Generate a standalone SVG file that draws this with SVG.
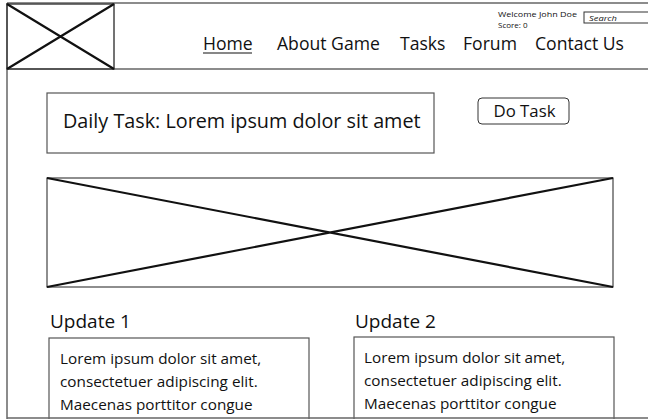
<svg xmlns="http://www.w3.org/2000/svg" width="648" height="419" viewBox="0 0 648 419">
<style>
text{font-family:"Open Sans","Noto Sans",sans-serif;fill:#111}
.box{fill:#fff;stroke:#555;stroke-width:1.2}
.x{stroke:#111;stroke-width:2.2;fill:none}
.line{stroke:#666;stroke-width:1.5;fill:none}
.nav{font-size:17.6px}
.body{font-size:15.3px}
.head{font-size:19px}
.small{font-size:8px}
</style>
<rect x="0" y="0" width="648" height="419" fill="#fff"/>
<g id="frame">
<line class="line" x1="7" y1="3" x2="648" y2="3"/>
<line class="line" x1="7" y1="69" x2="648" y2="69"/>
<line class="line" x1="7" y1="3" x2="7" y2="419"/>
</g>
<g id="logo">
<rect x="7" y="4" width="107" height="65" fill="none" stroke="#444" stroke-width="1.5"/>
<path class="x" d="M7 4 L114 69 M114 4 L7 69"/>
</g>
<g id="nav">
<text class="nav" x="203" y="50">Home</text>
<line x1="203" y1="53" x2="252" y2="53" stroke="#111" stroke-width="1.2"/>
<text class="nav" x="277" y="50">About Game</text>
<text class="nav" x="400" y="50">Tasks</text>
<text class="nav" x="463" y="50">Forum</text>
<text class="nav" x="535" y="50">Contact Us</text>
</g>
<g id="user">
<text class="small" x="498" y="17" textLength="79" lengthAdjust="spacingAndGlyphs">Welcome John Doe</text>
<text class="small" x="498" y="28">Score: 0</text>
</g>
<g id="search">
<rect x="584" y="12" width="70" height="11" fill="#fff" stroke="#333" stroke-width="1"/>
<text class="small" x="589" y="21" font-style="italic" textLength="28" lengthAdjust="spacingAndGlyphs">Search</text>
</g>
<g id="daily">
<rect class="box" x="47" y="93" width="387" height="60"/>
<text x="63" y="128" font-size="19.8">Daily Task: Lorem ipsum dolor sit amet</text>
</g>
<g id="dotask">
<rect x="478" y="98" width="91" height="26" rx="4" fill="#fff" stroke="#333" stroke-width="1"/>
<text x="524.5" y="117" font-size="16.8" text-anchor="middle">Do Task</text>
</g>
<g id="banner">
<rect x="47" y="178" width="566" height="109" fill="#fff" stroke="#444" stroke-width="1.2"/>
<path class="x" d="M47 178 L613 287 M613 178 L47 287"/>
</g>
<g id="update1">
<text class="head" x="50" y="328">Update 1</text>
<rect class="box" x="49" y="338" width="260" height="90"/>
<text class="body" x="60" y="364">Lorem ipsum dolor sit amet,</text>
<text class="body" x="60" y="387">consectetuer adipiscing elit.</text>
<text class="body" x="60" y="410">Maecenas porttitor congue</text>
</g>
<g id="update2">
<text class="head" x="355" y="328">Update 2</text>
<rect class="box" x="354" y="337" width="260" height="90"/>
<text class="body" x="364" y="363">Lorem ipsum dolor sit amet,</text>
<text class="body" x="364" y="386">consectetuer adipiscing elit.</text>
<text class="body" x="364" y="409">Maecenas porttitor congue</text>
</g>
<g id="bottom">
<line class="line" x1="7" y1="418" x2="648" y2="418"/>
</g>
<g id="connectors"></g>
</svg>
